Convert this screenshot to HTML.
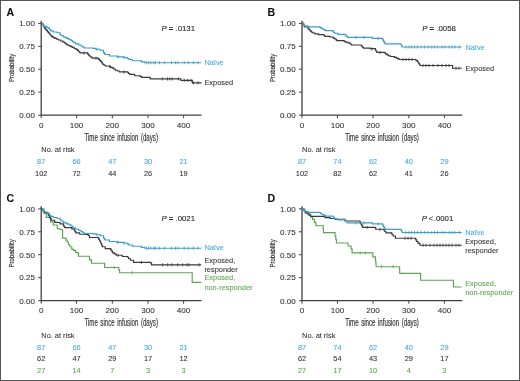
<!DOCTYPE html><html><head><meta charset="utf-8"><style>html,body{margin:0;padding:0;background:#fff;}svg{display:block;filter:blur(0.3px);}text{font-family:"Liberation Sans",sans-serif;}</style></head><body>
<svg width="520" height="381" viewBox="0 0 520 381">
<rect x="0" y="0" width="520" height="381" fill="#fff"/>
<g transform="translate(0,0)">
<text x="6.6" y="15.9" font-size="10.6" font-weight="bold" fill="#111" stroke="#111" stroke-width="0.08">A</text>
<path d="M41.2 20.8 V115.2 H201.5" fill="none" stroke="#404040" stroke-width="1.3"/>
<line x1="38.2" y1="23.4" x2="41.2" y2="23.4" stroke="#404040" stroke-width="1"/>
<text x="34.9" y="26.2" font-size="8.0" text-anchor="end" fill="#333333" stroke="#333333" stroke-width="0.08">1.00</text>
<line x1="38.2" y1="46.3" x2="41.2" y2="46.3" stroke="#404040" stroke-width="1"/>
<text x="34.9" y="49.1" font-size="8.0" text-anchor="end" fill="#333333" stroke="#333333" stroke-width="0.08">0.75</text>
<line x1="38.2" y1="69.2" x2="41.2" y2="69.2" stroke="#404040" stroke-width="1"/>
<text x="34.9" y="72.0" font-size="8.0" text-anchor="end" fill="#333333" stroke="#333333" stroke-width="0.08">0.50</text>
<line x1="38.2" y1="92.1" x2="41.2" y2="92.1" stroke="#404040" stroke-width="1"/>
<text x="34.9" y="94.9" font-size="8.0" text-anchor="end" fill="#333333" stroke="#333333" stroke-width="0.08">0.25</text>
<line x1="38.2" y1="115.2" x2="41.2" y2="115.2" stroke="#404040" stroke-width="1"/>
<text x="34.9" y="118.0" font-size="8.0" text-anchor="end" fill="#333333" stroke="#333333" stroke-width="0.08">0.00</text>
<line x1="41.2" y1="115.2" x2="41.2" y2="118.2" stroke="#404040" stroke-width="1"/>
<text x="41.2" y="127.9" font-size="8.1" text-anchor="middle" fill="#333333" stroke="#333333" stroke-width="0.08">0</text>
<line x1="76.6" y1="115.2" x2="76.6" y2="118.2" stroke="#404040" stroke-width="1"/>
<text x="76.6" y="127.9" font-size="8.1" text-anchor="middle" fill="#333333" stroke="#333333" stroke-width="0.08">100</text>
<line x1="112.3" y1="115.2" x2="112.3" y2="118.2" stroke="#404040" stroke-width="1"/>
<text x="112.3" y="127.9" font-size="8.1" text-anchor="middle" fill="#333333" stroke="#333333" stroke-width="0.08">200</text>
<line x1="148.0" y1="115.2" x2="148.0" y2="118.2" stroke="#404040" stroke-width="1"/>
<text x="148.0" y="127.9" font-size="8.1" text-anchor="middle" fill="#333333" stroke="#333333" stroke-width="0.08">300</text>
<line x1="183.6" y1="115.2" x2="183.6" y2="118.2" stroke="#404040" stroke-width="1"/>
<text x="183.6" y="127.9" font-size="8.1" text-anchor="middle" fill="#333333" stroke="#333333" stroke-width="0.08">400</text>
<text x="84.4" y="140.8" font-size="10.1" word-spacing="1.3" textLength="73.6" lengthAdjust="spacingAndGlyphs" fill="#333333" stroke="#333333" stroke-width="0.18">Time since infusion (days)</text>
<text transform="translate(14.2,82.1) rotate(-90)" x="0" y="0" font-size="8.1" textLength="28.3" lengthAdjust="spacingAndGlyphs" fill="#333333" stroke="#333333" stroke-width="0.18">Probability</text>
<text x="41.3" y="152.4" font-size="7.4" fill="#333333" stroke="#333333" stroke-width="0.08">No. at risk</text>
</g>
<g transform="translate(260.8,0)">
<text x="6.6" y="15.9" font-size="10.6" font-weight="bold" fill="#111" stroke="#111" stroke-width="0.08">B</text>
<path d="M41.2 20.8 V115.2 H201.5" fill="none" stroke="#404040" stroke-width="1.3"/>
<line x1="38.2" y1="23.4" x2="41.2" y2="23.4" stroke="#404040" stroke-width="1"/>
<text x="34.9" y="26.2" font-size="8.0" text-anchor="end" fill="#333333" stroke="#333333" stroke-width="0.08">1.00</text>
<line x1="38.2" y1="46.3" x2="41.2" y2="46.3" stroke="#404040" stroke-width="1"/>
<text x="34.9" y="49.1" font-size="8.0" text-anchor="end" fill="#333333" stroke="#333333" stroke-width="0.08">0.75</text>
<line x1="38.2" y1="69.2" x2="41.2" y2="69.2" stroke="#404040" stroke-width="1"/>
<text x="34.9" y="72.0" font-size="8.0" text-anchor="end" fill="#333333" stroke="#333333" stroke-width="0.08">0.50</text>
<line x1="38.2" y1="92.1" x2="41.2" y2="92.1" stroke="#404040" stroke-width="1"/>
<text x="34.9" y="94.9" font-size="8.0" text-anchor="end" fill="#333333" stroke="#333333" stroke-width="0.08">0.25</text>
<line x1="38.2" y1="115.2" x2="41.2" y2="115.2" stroke="#404040" stroke-width="1"/>
<text x="34.9" y="118.0" font-size="8.0" text-anchor="end" fill="#333333" stroke="#333333" stroke-width="0.08">0.00</text>
<line x1="41.2" y1="115.2" x2="41.2" y2="118.2" stroke="#404040" stroke-width="1"/>
<text x="41.2" y="127.9" font-size="8.1" text-anchor="middle" fill="#333333" stroke="#333333" stroke-width="0.08">0</text>
<line x1="76.6" y1="115.2" x2="76.6" y2="118.2" stroke="#404040" stroke-width="1"/>
<text x="76.6" y="127.9" font-size="8.1" text-anchor="middle" fill="#333333" stroke="#333333" stroke-width="0.08">100</text>
<line x1="112.3" y1="115.2" x2="112.3" y2="118.2" stroke="#404040" stroke-width="1"/>
<text x="112.3" y="127.9" font-size="8.1" text-anchor="middle" fill="#333333" stroke="#333333" stroke-width="0.08">200</text>
<line x1="148.0" y1="115.2" x2="148.0" y2="118.2" stroke="#404040" stroke-width="1"/>
<text x="148.0" y="127.9" font-size="8.1" text-anchor="middle" fill="#333333" stroke="#333333" stroke-width="0.08">300</text>
<line x1="183.6" y1="115.2" x2="183.6" y2="118.2" stroke="#404040" stroke-width="1"/>
<text x="183.6" y="127.9" font-size="8.1" text-anchor="middle" fill="#333333" stroke="#333333" stroke-width="0.08">400</text>
<text x="84.4" y="140.8" font-size="10.1" word-spacing="1.3" textLength="73.6" lengthAdjust="spacingAndGlyphs" fill="#333333" stroke="#333333" stroke-width="0.18">Time since infusion (days)</text>
<text transform="translate(14.2,82.1) rotate(-90)" x="0" y="0" font-size="8.1" textLength="28.3" lengthAdjust="spacingAndGlyphs" fill="#333333" stroke="#333333" stroke-width="0.18">Probability</text>
<text x="41.3" y="152.4" font-size="7.4" fill="#333333" stroke="#333333" stroke-width="0.08">No. at risk</text>
</g>
<g transform="translate(0,185.5)">
<text x="6.6" y="16.8" font-size="10.6" font-weight="bold" fill="#111" stroke="#111" stroke-width="0.08">C</text>
<path d="M41.2 20.8 V115.2 H201.5" fill="none" stroke="#404040" stroke-width="1.3"/>
<line x1="38.2" y1="23.4" x2="41.2" y2="23.4" stroke="#404040" stroke-width="1"/>
<text x="34.9" y="26.2" font-size="8.0" text-anchor="end" fill="#333333" stroke="#333333" stroke-width="0.08">1.00</text>
<line x1="38.2" y1="46.3" x2="41.2" y2="46.3" stroke="#404040" stroke-width="1"/>
<text x="34.9" y="49.1" font-size="8.0" text-anchor="end" fill="#333333" stroke="#333333" stroke-width="0.08">0.75</text>
<line x1="38.2" y1="69.2" x2="41.2" y2="69.2" stroke="#404040" stroke-width="1"/>
<text x="34.9" y="72.0" font-size="8.0" text-anchor="end" fill="#333333" stroke="#333333" stroke-width="0.08">0.50</text>
<line x1="38.2" y1="92.1" x2="41.2" y2="92.1" stroke="#404040" stroke-width="1"/>
<text x="34.9" y="94.9" font-size="8.0" text-anchor="end" fill="#333333" stroke="#333333" stroke-width="0.08">0.25</text>
<line x1="38.2" y1="115.2" x2="41.2" y2="115.2" stroke="#404040" stroke-width="1"/>
<text x="34.9" y="118.0" font-size="8.0" text-anchor="end" fill="#333333" stroke="#333333" stroke-width="0.08">0.00</text>
<line x1="41.2" y1="115.2" x2="41.2" y2="118.2" stroke="#404040" stroke-width="1"/>
<text x="41.2" y="127.9" font-size="8.1" text-anchor="middle" fill="#333333" stroke="#333333" stroke-width="0.08">0</text>
<line x1="76.6" y1="115.2" x2="76.6" y2="118.2" stroke="#404040" stroke-width="1"/>
<text x="76.6" y="127.9" font-size="8.1" text-anchor="middle" fill="#333333" stroke="#333333" stroke-width="0.08">100</text>
<line x1="112.3" y1="115.2" x2="112.3" y2="118.2" stroke="#404040" stroke-width="1"/>
<text x="112.3" y="127.9" font-size="8.1" text-anchor="middle" fill="#333333" stroke="#333333" stroke-width="0.08">200</text>
<line x1="148.0" y1="115.2" x2="148.0" y2="118.2" stroke="#404040" stroke-width="1"/>
<text x="148.0" y="127.9" font-size="8.1" text-anchor="middle" fill="#333333" stroke="#333333" stroke-width="0.08">300</text>
<line x1="183.6" y1="115.2" x2="183.6" y2="118.2" stroke="#404040" stroke-width="1"/>
<text x="183.6" y="127.9" font-size="8.1" text-anchor="middle" fill="#333333" stroke="#333333" stroke-width="0.08">400</text>
<text x="84.4" y="140.8" font-size="10.1" word-spacing="1.3" textLength="73.6" lengthAdjust="spacingAndGlyphs" fill="#333333" stroke="#333333" stroke-width="0.18">Time since infusion (days)</text>
<text transform="translate(14.2,82.1) rotate(-90)" x="0" y="0" font-size="8.1" textLength="28.3" lengthAdjust="spacingAndGlyphs" fill="#333333" stroke="#333333" stroke-width="0.18">Probability</text>
<text x="41.3" y="152.4" font-size="7.4" fill="#333333" stroke="#333333" stroke-width="0.08">No. at risk</text>
</g>
<g transform="translate(260.8,185.5)">
<text x="6.6" y="16.8" font-size="10.6" font-weight="bold" fill="#111" stroke="#111" stroke-width="0.08">D</text>
<path d="M41.2 20.8 V115.2 H201.5" fill="none" stroke="#404040" stroke-width="1.3"/>
<line x1="38.2" y1="23.4" x2="41.2" y2="23.4" stroke="#404040" stroke-width="1"/>
<text x="34.9" y="26.2" font-size="8.0" text-anchor="end" fill="#333333" stroke="#333333" stroke-width="0.08">1.00</text>
<line x1="38.2" y1="46.3" x2="41.2" y2="46.3" stroke="#404040" stroke-width="1"/>
<text x="34.9" y="49.1" font-size="8.0" text-anchor="end" fill="#333333" stroke="#333333" stroke-width="0.08">0.75</text>
<line x1="38.2" y1="69.2" x2="41.2" y2="69.2" stroke="#404040" stroke-width="1"/>
<text x="34.9" y="72.0" font-size="8.0" text-anchor="end" fill="#333333" stroke="#333333" stroke-width="0.08">0.50</text>
<line x1="38.2" y1="92.1" x2="41.2" y2="92.1" stroke="#404040" stroke-width="1"/>
<text x="34.9" y="94.9" font-size="8.0" text-anchor="end" fill="#333333" stroke="#333333" stroke-width="0.08">0.25</text>
<line x1="38.2" y1="115.2" x2="41.2" y2="115.2" stroke="#404040" stroke-width="1"/>
<text x="34.9" y="118.0" font-size="8.0" text-anchor="end" fill="#333333" stroke="#333333" stroke-width="0.08">0.00</text>
<line x1="41.2" y1="115.2" x2="41.2" y2="118.2" stroke="#404040" stroke-width="1"/>
<text x="41.2" y="127.9" font-size="8.1" text-anchor="middle" fill="#333333" stroke="#333333" stroke-width="0.08">0</text>
<line x1="76.6" y1="115.2" x2="76.6" y2="118.2" stroke="#404040" stroke-width="1"/>
<text x="76.6" y="127.9" font-size="8.1" text-anchor="middle" fill="#333333" stroke="#333333" stroke-width="0.08">100</text>
<line x1="112.3" y1="115.2" x2="112.3" y2="118.2" stroke="#404040" stroke-width="1"/>
<text x="112.3" y="127.9" font-size="8.1" text-anchor="middle" fill="#333333" stroke="#333333" stroke-width="0.08">200</text>
<line x1="148.0" y1="115.2" x2="148.0" y2="118.2" stroke="#404040" stroke-width="1"/>
<text x="148.0" y="127.9" font-size="8.1" text-anchor="middle" fill="#333333" stroke="#333333" stroke-width="0.08">300</text>
<line x1="183.6" y1="115.2" x2="183.6" y2="118.2" stroke="#404040" stroke-width="1"/>
<text x="183.6" y="127.9" font-size="8.1" text-anchor="middle" fill="#333333" stroke="#333333" stroke-width="0.08">400</text>
<text x="84.4" y="140.8" font-size="10.1" word-spacing="1.3" textLength="73.6" lengthAdjust="spacingAndGlyphs" fill="#333333" stroke="#333333" stroke-width="0.18">Time since infusion (days)</text>
<text transform="translate(14.2,82.1) rotate(-90)" x="0" y="0" font-size="8.1" textLength="28.3" lengthAdjust="spacingAndGlyphs" fill="#333333" stroke="#333333" stroke-width="0.18">Probability</text>
<text x="41.3" y="152.4" font-size="7.4" fill="#333333" stroke="#333333" stroke-width="0.08">No. at risk</text>
</g>
<g transform="translate(0,0)"><text x="161.4" y="30.7" font-size="7.8" fill="#222" stroke="#222" stroke-width="0.08"><tspan font-style="italic">P</tspan> <tspan font-weight="bold">=</tspan> .0131</text></g>
<g transform="translate(260.8,0)"><text x="161.4" y="30.7" font-size="7.8" fill="#222" stroke="#222" stroke-width="0.08"><tspan font-style="italic">P</tspan> <tspan font-weight="bold">=</tspan> .0058</text></g>
<g transform="translate(0,185.5)"><text x="161.4" y="35.3" font-size="7.8" fill="#222" stroke="#222" stroke-width="0.08"><tspan font-style="italic">P</tspan> <tspan font-weight="bold">=</tspan> .0021</text></g>
<g transform="translate(260.8,185.5)"><text x="161.0" y="35.1" font-size="7.8" fill="#222" stroke="#222" stroke-width="0.08"><tspan font-style="italic">P</tspan><tspan dx="1.6">&lt;</tspan><tspan dx="0.6">.0001</tspan></text></g>
<g transform="translate(0,0)">
<text x="41.2" y="164.4" font-size="7.4" text-anchor="middle" fill="#4aa9de" stroke="#4aa9de" stroke-width="0.08">87</text>
<text x="76.6" y="164.4" font-size="7.4" text-anchor="middle" fill="#4aa9de" stroke="#4aa9de" stroke-width="0.08">66</text>
<text x="112.3" y="164.4" font-size="7.4" text-anchor="middle" fill="#4aa9de" stroke="#4aa9de" stroke-width="0.08">47</text>
<text x="148.0" y="164.4" font-size="7.4" text-anchor="middle" fill="#4aa9de" stroke="#4aa9de" stroke-width="0.08">30</text>
<text x="183.6" y="164.4" font-size="7.4" text-anchor="middle" fill="#4aa9de" stroke="#4aa9de" stroke-width="0.08">21</text>
<text x="41.2" y="175.8" font-size="7.4" text-anchor="middle" fill="#333333" stroke="#333333" stroke-width="0.08">102</text>
<text x="76.6" y="175.8" font-size="7.4" text-anchor="middle" fill="#333333" stroke="#333333" stroke-width="0.08">72</text>
<text x="112.3" y="175.8" font-size="7.4" text-anchor="middle" fill="#333333" stroke="#333333" stroke-width="0.08">44</text>
<text x="148.0" y="175.8" font-size="7.4" text-anchor="middle" fill="#333333" stroke="#333333" stroke-width="0.08">26</text>
<text x="183.6" y="175.8" font-size="7.4" text-anchor="middle" fill="#333333" stroke="#333333" stroke-width="0.08">19</text>
</g>
<g transform="translate(260.8,0)">
<text x="41.2" y="164.4" font-size="7.4" text-anchor="middle" fill="#4aa9de" stroke="#4aa9de" stroke-width="0.08">87</text>
<text x="76.6" y="164.4" font-size="7.4" text-anchor="middle" fill="#4aa9de" stroke="#4aa9de" stroke-width="0.08">74</text>
<text x="112.3" y="164.4" font-size="7.4" text-anchor="middle" fill="#4aa9de" stroke="#4aa9de" stroke-width="0.08">62</text>
<text x="148.0" y="164.4" font-size="7.4" text-anchor="middle" fill="#4aa9de" stroke="#4aa9de" stroke-width="0.08">40</text>
<text x="183.6" y="164.4" font-size="7.4" text-anchor="middle" fill="#4aa9de" stroke="#4aa9de" stroke-width="0.08">29</text>
<text x="41.2" y="175.8" font-size="7.4" text-anchor="middle" fill="#333333" stroke="#333333" stroke-width="0.08">102</text>
<text x="76.6" y="175.8" font-size="7.4" text-anchor="middle" fill="#333333" stroke="#333333" stroke-width="0.08">82</text>
<text x="112.3" y="175.8" font-size="7.4" text-anchor="middle" fill="#333333" stroke="#333333" stroke-width="0.08">62</text>
<text x="148.0" y="175.8" font-size="7.4" text-anchor="middle" fill="#333333" stroke="#333333" stroke-width="0.08">41</text>
<text x="183.6" y="175.8" font-size="7.4" text-anchor="middle" fill="#333333" stroke="#333333" stroke-width="0.08">26</text>
</g>
<g transform="translate(0,185.5)">
<text x="41.2" y="164.4" font-size="7.4" text-anchor="middle" fill="#4aa9de" stroke="#4aa9de" stroke-width="0.08">87</text>
<text x="76.6" y="164.4" font-size="7.4" text-anchor="middle" fill="#4aa9de" stroke="#4aa9de" stroke-width="0.08">66</text>
<text x="112.3" y="164.4" font-size="7.4" text-anchor="middle" fill="#4aa9de" stroke="#4aa9de" stroke-width="0.08">47</text>
<text x="148.0" y="164.4" font-size="7.4" text-anchor="middle" fill="#4aa9de" stroke="#4aa9de" stroke-width="0.08">30</text>
<text x="183.6" y="164.4" font-size="7.4" text-anchor="middle" fill="#4aa9de" stroke="#4aa9de" stroke-width="0.08">21</text>
<text x="41.2" y="175.8" font-size="7.4" text-anchor="middle" fill="#333333" stroke="#333333" stroke-width="0.08">62</text>
<text x="76.6" y="175.8" font-size="7.4" text-anchor="middle" fill="#333333" stroke="#333333" stroke-width="0.08">47</text>
<text x="112.3" y="175.8" font-size="7.4" text-anchor="middle" fill="#333333" stroke="#333333" stroke-width="0.08">29</text>
<text x="148.0" y="175.8" font-size="7.4" text-anchor="middle" fill="#333333" stroke="#333333" stroke-width="0.08">17</text>
<text x="183.6" y="175.8" font-size="7.4" text-anchor="middle" fill="#333333" stroke="#333333" stroke-width="0.08">12</text>
<text x="41.2" y="187.3" font-size="7.4" text-anchor="middle" fill="#5aa84c" stroke="#5aa84c" stroke-width="0.08">27</text>
<text x="76.6" y="187.3" font-size="7.4" text-anchor="middle" fill="#5aa84c" stroke="#5aa84c" stroke-width="0.08">14</text>
<text x="112.3" y="187.3" font-size="7.4" text-anchor="middle" fill="#5aa84c" stroke="#5aa84c" stroke-width="0.08">7</text>
<text x="148.0" y="187.3" font-size="7.4" text-anchor="middle" fill="#5aa84c" stroke="#5aa84c" stroke-width="0.08">3</text>
<text x="183.6" y="187.3" font-size="7.4" text-anchor="middle" fill="#5aa84c" stroke="#5aa84c" stroke-width="0.08">3</text>
</g>
<g transform="translate(260.8,185.5)">
<text x="41.2" y="164.4" font-size="7.4" text-anchor="middle" fill="#4aa9de" stroke="#4aa9de" stroke-width="0.08">87</text>
<text x="76.6" y="164.4" font-size="7.4" text-anchor="middle" fill="#4aa9de" stroke="#4aa9de" stroke-width="0.08">74</text>
<text x="112.3" y="164.4" font-size="7.4" text-anchor="middle" fill="#4aa9de" stroke="#4aa9de" stroke-width="0.08">62</text>
<text x="148.0" y="164.4" font-size="7.4" text-anchor="middle" fill="#4aa9de" stroke="#4aa9de" stroke-width="0.08">40</text>
<text x="183.6" y="164.4" font-size="7.4" text-anchor="middle" fill="#4aa9de" stroke="#4aa9de" stroke-width="0.08">29</text>
<text x="41.2" y="175.8" font-size="7.4" text-anchor="middle" fill="#333333" stroke="#333333" stroke-width="0.08">62</text>
<text x="76.6" y="175.8" font-size="7.4" text-anchor="middle" fill="#333333" stroke="#333333" stroke-width="0.08">54</text>
<text x="112.3" y="175.8" font-size="7.4" text-anchor="middle" fill="#333333" stroke="#333333" stroke-width="0.08">43</text>
<text x="148.0" y="175.8" font-size="7.4" text-anchor="middle" fill="#333333" stroke="#333333" stroke-width="0.08">29</text>
<text x="183.6" y="175.8" font-size="7.4" text-anchor="middle" fill="#333333" stroke="#333333" stroke-width="0.08">17</text>
<text x="41.2" y="187.3" font-size="7.4" text-anchor="middle" fill="#5aa84c" stroke="#5aa84c" stroke-width="0.08">27</text>
<text x="76.6" y="187.3" font-size="7.4" text-anchor="middle" fill="#5aa84c" stroke="#5aa84c" stroke-width="0.08">17</text>
<text x="112.3" y="187.3" font-size="7.4" text-anchor="middle" fill="#5aa84c" stroke="#5aa84c" stroke-width="0.08">10</text>
<text x="148.0" y="187.3" font-size="7.4" text-anchor="middle" fill="#5aa84c" stroke="#5aa84c" stroke-width="0.08">4</text>
<text x="183.6" y="187.3" font-size="7.4" text-anchor="middle" fill="#5aa84c" stroke="#5aa84c" stroke-width="0.08">3</text>
</g>
<path d="M42.4 23.4H42.6V24.2H43.1V25.1H43.5V25.9H43.9V26.8H44.4V27.6H44.6H45.0V28.6H45.8V29.6H46.7V30.6H47.5V31.6H47.9H48.3V32.6H49.2V33.7H50.1V34.7H50.5H51.0V35.8H52.1V36.8H52.6H53.4V37.6H55.0V38.4H55.8H56.7V39.2H58.6V40.0H59.5H60.7V41.0H63.0V42.1H64.2H64.7V43.0H65.8V43.8H66.8V44.7H67.3H68.2V45.5H70.1V46.3H71.0H72.1V47.4H74.2V48.5H75.3H76.0V49.4H77.5V50.3H78.2H78.5V51.2H79.2V52.0H80.0V52.9H80.3H87.6V53.4H87.9V54.3H88.7V55.1H89.3V56.0H89.7H90.5V57.0H92.1V58.1H92.9H98.1V58.4H98.6V59.3H99.7V60.3H100.2H100.5V61.1H101.2V62.0H101.8V62.8H102.4V63.7H103.1V64.5H103.4H104.1V65.2H105.3V66.0H106.0H109.7V66.6H110.6V67.3H112.3V68.1H113.2H114.0V69.2H115.5V70.2H116.3H117.3V71.0H119.5V71.8H120.5H127.8V72.5H128.5V73.5H129.8V74.4H130.5H134.7V75.7H140.0V76.3H141.6V77.4H150.2V78.9H180.8V80.4H192.3V82.9H201.5" fill="none" stroke="#3a3a3a" stroke-width="1.15" stroke-linejoin="miter"/><path d="M84.0 51.6V54.8M96.0 56.7V59.9M110.0 65.1V68.3M124.0 70.5V73.7M162.3 77.3V80.5M167.5 77.3V80.5M169.8 77.3V80.5M172.1 77.3V80.5M178.4 77.3V80.5M184.2 78.8V82.0M187.7 78.8V82.0M191.1 78.8V82.0M193.4 81.3V84.5M198.0 81.3V84.5" stroke="#3a3a3a" stroke-width="0.8" fill="none"/>
<path d="M42.4 23.4H42.7V24.4H43.3V25.3H43.9V26.3H44.2H46.8V27.6H49.0V28.2H49.3V29.1H50.0V30.0H50.7V30.9H51.0H53.2V32.0H57.0V32.7H60.0V34.2H61.0V35.5H63.2V36.8H64.2H65.1V37.6H67.0V38.4H67.9H69.0V39.5H71.0V40.5H72.1H72.6V41.5H73.7V42.5H74.2H75.7V43.8H78.8V45.0H80.3H81.1V46.0H82.7V47.0H84.2V48.0H85.0H92.9V48.4H96.0V49.2H100.2V50.2H103.4V51.7H103.7V52.6H104.4V53.6H105.1V54.5H105.4H109.4V56.0H117.0V56.8H123.6V57.5H127.2V58.3H128.9V59.5H132.4V60.7H134.2H141.3V61.8H144.9V62.7H201.3" fill="none" stroke="#3a9dcc" stroke-width="1.15" stroke-linejoin="miter"/><path d="M97.0 47.8V51.0M118.0 55.3V58.5M124.0 56.0V59.2M146.2 61.1V64.3M148.5 61.1V64.3M150.8 61.1V64.3M153.7 61.1V64.3M155.4 61.1V64.3M159.4 61.1V64.3M164.6 61.1V64.3M171.5 61.1V64.3M175.6 61.1V64.3M177.9 61.1V64.3M184.2 61.1V64.3M188.3 61.1V64.3M193.4 61.1V64.3M198.0 61.1V64.3" stroke="#3a9dcc" stroke-width="0.8" fill="none"/>
<path d="M303.2 23.1H303.4V24.1H303.8V25.1H304.1V26.0H304.5V27.0H304.7H307.9V28.0H308.3V28.9H309.2V29.7H310.1V30.6H310.5H310.9V31.4H311.6V32.2H312.0H312.9V33.0H314.9V33.8H315.8H318.4V34.6H323.6H324.0V35.5H324.8V36.4H325.2H330.0V37.0H333.0V37.6H333.7V38.3H335.0V39.0H335.7H336.1V39.8H336.9V40.6H337.3H344.1V41.3H345.4V42.1H347.9V42.9H349.2H350.0V44.0H351.6V45.0H352.4H360.8H361.3V46.0H362.4V47.1H363.4V48.1H363.9H370.2V48.6H375.5V49.7H375.8V50.6H376.2V51.4H376.8V52.3H377.0H384.9V52.8H385.5V53.8H386.9V54.9H387.5H388.4V55.7H390.3V56.5H391.2H393.6V56.6H394.5V57.4H396.3V58.1H397.2H397.9V58.8H399.4V59.5H400.1H415.3H416.0V60.6H417.4V61.7H418.1H418.4V62.7H418.9V63.6H419.5V64.5H420.0V65.5H420.3H452.6V68.2H461.8" fill="none" stroke="#3a3a3a" stroke-width="1.15" stroke-linejoin="miter"/><path d="M372.0 47.4V50.6M380.0 50.9V54.1M403.0 57.9V61.1M406.0 57.9V61.1M409.0 57.9V61.1M412.0 57.9V61.1M423.0 63.9V67.1M426.0 63.9V67.1M429.0 63.9V67.1M433.0 63.9V67.1M438.0 63.9V67.1M442.0 63.9V67.1M446.0 63.9V67.1M449.0 63.9V67.1M456.0 66.6V69.8M459.0 66.6V69.8" stroke="#3a3a3a" stroke-width="0.8" fill="none"/>
<path d="M303.2 23.1H303.4V24.0H303.9V25.0H304.4V25.9H304.7H307.9V26.9H320.0V27.3H320.8V28.1H322.3V29.0H323.1H323.9V29.8H325.5V30.6H326.3H333.1V31.4H333.6V32.3H334.7V33.2H335.2H337.8V34.3H345.2V34.9H345.9V36.1H347.4V37.4H348.2H370.2H372.3V38.4H382.3H382.6V39.4H383.1V40.3H383.6V41.3H383.9H384.3V42.6H385.0V43.9H385.4H400.8V44.0H401.1V45.0H401.6V46.0H402.1V47.0H402.3H461.8" fill="none" stroke="#3a9dcc" stroke-width="1.15" stroke-linejoin="miter"/><path d="M356.0 35.8V39.0M364.0 35.8V39.0M378.0 36.8V40.0M406.0 45.4V48.6M409.0 45.4V48.6M411.6 45.4V48.6M414.5 45.4V48.6M417.4 45.4V48.6M421.0 45.4V48.6M424.6 45.4V48.6M428.2 45.4V48.6M431.8 45.4V48.6M434.7 45.4V48.6M437.6 45.4V48.6M442.0 45.4V48.6M444.9 45.4V48.6M449.2 45.4V48.6M452.1 45.4V48.6M455.0 45.4V48.6M459.3 45.4V48.6" stroke="#3a9dcc" stroke-width="0.8" fill="none"/>
<path d="M42.3 209.0H44.0V213.0H46.3V217.4H50.5V218.2V221.8H53.2V222.0V225.0H57.3V225.5V228.7H60.0V229.5H62.6V232.9V238.1H65.9V240.1H67.2V242.0H68.5V244.7H69.8V246.7H71.8V249.3H73.8V250.6H75.7V252.6H78.4V256.2H87.6H89.5V259.8H91.5V263.2H104.3H104.6V267.5H118.4H118.8V270.1H119.6V272.7H120.0H192.2V282.3H201.3" fill="none" stroke="#5aa650" stroke-width="1.15" stroke-linejoin="miter"/><path d="M114.1 265.9V269.1M132.3 271.1V274.3" stroke="#5aa650" stroke-width="0.8" fill="none"/>
<path d="M42.3 209.0H42.7V210.3H43.5V211.6H44.3V212.9H44.7H47.9V213.9H48.4V215.5H49.5V217.1H50.0H50.4V218.6H51.2V220.2H51.6H54.7V222.4H57.9V222.5H60.0V223.9H63.3V225.0H63.8V226.3H64.7V227.6H65.2H71.8V228.9H74.4V230.2H74.9V231.6H75.9V232.9H76.4H79.7V234.2H86.2V234.4H88.2V235.5H89.5V237.5H98.1H98.6V239.1H99.5V240.7H100.0H100.3V242.2H101.0V243.7H101.6V245.2H102.3V246.7H102.6H105.2V248.6H110.5V249.3H111.2V250.9H112.4V252.6H113.1H114.1V253.9H116.1V255.2H117.1H122.3V256.5H127.6V257.2H128.6V258.7H130.5V260.2H131.5H133.5V262.4H150.9V262.5H151.1V263.6H151.6V264.8H151.8H201.3" fill="none" stroke="#3a3a3a" stroke-width="1.15" stroke-linejoin="miter"/><path d="M118.0 253.8V257.0M141.4 260.8V264.0M162.6 263.2V266.4M167.7 263.2V266.4M171.7 263.2V266.4M177.8 263.2V266.4M182.8 263.2V266.4M186.9 263.2V266.4M188.9 263.2V266.4M199.0 263.2V266.4" stroke="#3a3a3a" stroke-width="0.8" fill="none"/>
<path d="M42.4 208.9H42.7V209.9H43.3V210.8H43.9V211.8H44.2H46.8V213.1H49.0V213.7H49.3V214.6H50.0V215.5H50.7V216.4H51.0H53.2V217.5H57.0V218.2H60.0V219.7H61.0V221.0H63.2V222.3H64.2H65.1V223.1H67.0V223.9H67.9H69.0V224.9H71.0V226.0H72.1H72.6V227.0H73.7V228.0H74.2H75.7V229.2H78.8V230.5H80.3H81.1V231.5H82.7V232.5H84.2V233.5H85.0H92.9V233.9H96.0V234.7H100.2V235.7H103.4V237.2H103.7V238.1H104.4V239.1H105.1V240.0H105.4H109.4V241.5H117.0V242.3H123.6V243.0H127.2V243.8H128.9V245.0H132.4V246.2H134.2H141.3V247.3H144.9V248.2H201.3" fill="none" stroke="#3a9dcc" stroke-width="1.15" stroke-linejoin="miter"/><path d="M97.0 233.3V236.5M118.0 240.8V244.0M124.0 241.5V244.7M146.2 246.6V249.8M148.5 246.6V249.8M150.8 246.6V249.8M153.7 246.6V249.8M155.4 246.6V249.8M159.4 246.6V249.8M164.6 246.6V249.8M171.5 246.6V249.8M175.6 246.6V249.8M177.9 246.6V249.8M184.2 246.6V249.8M188.3 246.6V249.8M193.4 246.6V249.8M198.0 246.6V249.8" stroke="#3a9dcc" stroke-width="0.8" fill="none"/>
<path d="M303.2 209.0H304.8V212.0H307.7V214.6H310.6V217.0H312.5V219.4H314.0H314.4V222.3H315.4V222.8H315.9V225.7H323.1H323.2V229.1H323.5V232.6H323.6H334.8H335.1V236.1H335.8V239.5H336.4V243.0H336.7H346.9H348.1V246.0H351.0V248.8H352.1V252.9H371.1H372.9V256.9H375.2V257.2H375.4V260.4H375.8V263.5H376.1V266.7H376.3H399.6H399.6V270.0H399.7V273.4H399.7H420.6V280.2H453.5V287.0H461.6" fill="none" stroke="#5aa650" stroke-width="1.15" stroke-linejoin="miter"/><path d="M360.2 251.3V254.5M365.4 251.3V254.5M381.5 265.1V268.3M393.1 265.1V268.3" stroke="#5aa650" stroke-width="0.8" fill="none"/>
<path d="M303.2 209.0H303.7V210.4H304.8V211.8H305.8V213.2H306.3H309.1V215.1H310.6V216.3H323.1H325.0V217.6H330.0V218.5H335.0V219.2H345.0V221.0H360.0V221.8H360.4V223.2H361.2V224.6H361.9V225.9H362.7V227.3H363.1H374.1H375.7V229.2H383.6V229.7H384.4V231.2H385.9V232.8H386.7H391.5V233.3H392.1V234.7H393.2V236.0H393.8H395.4V238.2H415.2H415.7V239.8H416.7V241.5H417.2H418.1V243.3H419.8V245.2H420.6H461.8" fill="none" stroke="#3a3a3a" stroke-width="1.15" stroke-linejoin="miter"/><path d="M367.0 225.7V228.9M380.0 227.9V231.1M405.0 236.6V239.8M408.0 236.6V239.8M411.0 236.6V239.8M423.0 243.6V246.8M426.0 243.6V246.8M430.0 243.6V246.8M434.0 243.6V246.8M437.0 243.6V246.8M440.0 243.6V246.8M443.0 243.6V246.8M446.0 243.6V246.8M449.0 243.6V246.8M452.0 243.6V246.8M456.0 243.6V246.8M459.0 243.6V246.8" stroke="#3a3a3a" stroke-width="0.8" fill="none"/>
<path d="M303.2 208.6H303.4V209.5H303.9V210.5H304.4V211.4H304.7H307.9V212.4H320.0V212.8H320.8V213.7H322.3V214.5H323.1H323.9V215.3H325.5V216.1H326.3H333.1V216.9H333.6V217.8H334.7V218.7H335.2H337.8V219.8H345.2V220.4H345.9V221.7H347.4V222.9H348.2H370.2H372.3V223.9H382.3H382.6V224.9H383.1V225.8H383.6V226.8H383.9H384.3V228.1H385.0V229.4H385.4H400.8V229.5H401.1V230.5H401.6V231.5H402.1V232.5H402.3H461.8" fill="none" stroke="#3a9dcc" stroke-width="1.15" stroke-linejoin="miter"/><path d="M356.0 221.3V224.5M364.0 221.3V224.5M378.0 222.3V225.5M406.0 230.9V234.1M409.0 230.9V234.1M411.6 230.9V234.1M414.5 230.9V234.1M417.4 230.9V234.1M421.0 230.9V234.1M424.6 230.9V234.1M428.2 230.9V234.1M431.8 230.9V234.1M434.7 230.9V234.1M437.6 230.9V234.1M442.0 230.9V234.1M444.9 230.9V234.1M449.2 230.9V234.1M452.1 230.9V234.1M455.0 230.9V234.1M459.3 230.9V234.1" stroke="#3a9dcc" stroke-width="0.8" fill="none"/>
<text x="204.4" y="64.9" font-size="7.4" fill="#4aa9de" stroke="#4aa9de" stroke-width="0.08">Naïve</text>
<text x="204.4" y="85.0" font-size="7.4" fill="#333333" stroke="#333333" stroke-width="0.08">Exposed</text>
<text x="465.4" y="49.5" font-size="7.4" fill="#4aa9de" stroke="#4aa9de" stroke-width="0.08">Naïve</text>
<text x="465.4" y="70.8" font-size="7.4" fill="#333333" stroke="#333333" stroke-width="0.08">Exposed</text>
<text x="204.4" y="250.0" font-size="7.4" fill="#4aa9de" stroke="#4aa9de" stroke-width="0.08">Naïve</text>
<text x="204.4" y="263.0" font-size="7.4" fill="#333333" stroke="#333333" stroke-width="0.08">Exposed,</text><text x="204.4" y="272.3" font-size="7.4" fill="#333333" stroke="#333333" stroke-width="0.08">responder</text>
<text x="204.4" y="280.4" font-size="7.4" fill="#5aa84c" stroke="#5aa84c" stroke-width="0.08">Exposed,</text><text x="204.4" y="289.7" font-size="7.4" fill="#5aa84c" stroke="#5aa84c" stroke-width="0.08">non-responder</text>
<text x="465.2" y="234.8" font-size="7.4" fill="#4aa9de" stroke="#4aa9de" stroke-width="0.08">Naïve</text>
<text x="465.2" y="244.0" font-size="7.4" fill="#333333" stroke="#333333" stroke-width="0.08">Exposed,</text><text x="465.2" y="253.3" font-size="7.4" fill="#333333" stroke="#333333" stroke-width="0.08">responder</text>
<text x="465.2" y="285.5" font-size="7.4" fill="#5aa84c" stroke="#5aa84c" stroke-width="0.08">Exposed,</text><text x="465.2" y="294.8" font-size="7.4" fill="#5aa84c" stroke="#5aa84c" stroke-width="0.08">non-responder</text>
<rect x="0.5" y="0.5" width="519" height="380" fill="none" stroke="#555" stroke-width="1"/>
</svg></body></html>
